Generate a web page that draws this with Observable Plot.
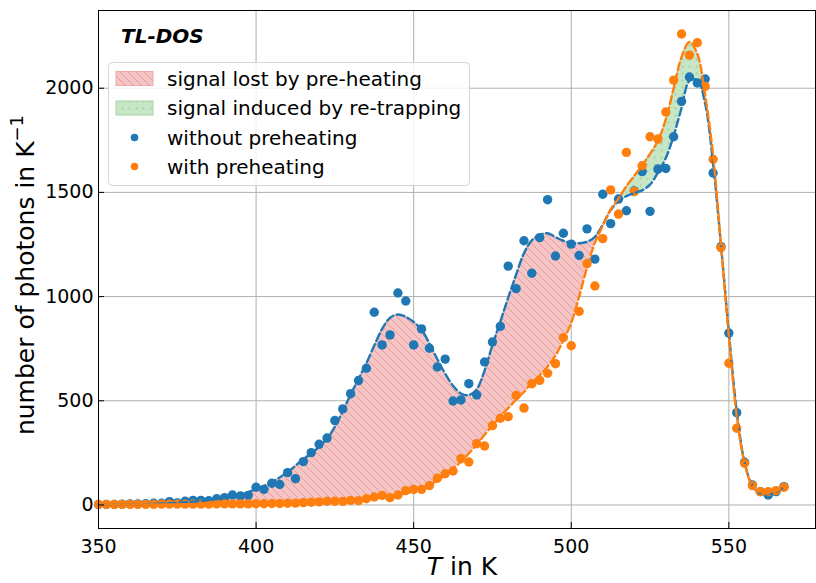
<!DOCTYPE html>
<html><head><meta charset="utf-8">
<script src="https://cdn.jsdelivr.net/npm/d3@7"></script>
<script src="https://cdn.jsdelivr.net/npm/@observablehq/plot@0.6"></script>
<style>
body{margin:0;background:#fff;font-family:"DejaVu Sans",sans-serif}
#chart{position:relative;width:816px;height:583px}
</style>
</head><body><div id="chart"></div>
<script>
// Temperatures (K)
const temperature = [
350,352.5,355,357.5,360,362.5,365,367.5,370,372.5,375,377.5,380,382.5,385,387.5,390,392.5,395,397.5,
400,402.5,405,407.5,410,412.5,415,417.5,420,422.5,425,427.5,430,432.5,435,437.5,440,442.5,445,447.5,
450,452.5,455,457.5,460,462.5,465,467.5,470,472.5,475,477.5,480,482.5,485,487.5,490,492.5,495,497.5,
500,502.5,505,507.5,510,512.5,515,517.5,520,522.5,525,527.5,530,532.5,535,537.5,540,542.5,545,547.5,
550,552.5,555,557.5,560,562.5,565,567.5];

// measured: without preheating
const withoutPreheating = [
2,3,3,4,5,5,6,8,8,16,10,18,22,22,20,30,35,48,43,46,
85,75,104,98,155,126,208,251,291,321,405,461,534,597,656,925,768,816,1017,979,
768,845,752,662,700,499,504,582,528,686,782,857,1146,1038,1268,1112,1283,1465,1195,1304,
1252,1198,1325,1180,1491,1350,1468,1412,1507,1600,1409,1612,1615,1767,1937,2054,2025,2044,1593,1240,
825,443,205,96,64,48,64,88];

// measured: with preheating
const withPreheating = [
3,3,3,3,3,3,3,3,4,4,4,4,4,4,4,5,5,5,5,5,
6,6,7,7,8,9,11,13,15,18,18,17,22,21,30,38,46,35,48,69,
75,75,93,128,150,163,222,206,294,283,381,416,424,526,465,582,598,632,678,803,
764,929,1158,1051,1278,1512,1396,1692,1504,1628,1767,1756,1886,2039,2260,2159,2218,2009,1659,1235,
680,368,200,93,64,64,69,85];

// smoothed curve: without preheating
const fitWithout = [
1,1,2,2,3,3,4,5,7,8,10,13,16,19,23,28,34,41,50,62,
76,92,110,132,158,188,222,245,280,318,375,450,530,605,680,765,845,898,914,903,
878,840,775,700,630,572,535,527,555,645,768,880,995,1105,1208,1270,1296,1304,1285,1268,
1258,1256,1263,1287,1345,1415,1458,1482,1497,1510,1537,1595,1665,1772,1905,2035,2040,1925,1640,1250,
830,450,205,92,55,52,62,85];

// smoothed curve: with preheating
const fitWith = [
2,2,2,2,2,3,3,3,3,3,3,4,4,4,4,5,5,5,6,6,
7,7,8,9,10,11,12,14,15,17,19,21,23,26,29,33,37,42,48,56,
66,79,96,118,145,175,208,248,290,337,382,425,465,505,542,585,622,665,718,790,
875,1000,1140,1258,1340,1418,1470,1530,1580,1630,1685,1748,1850,2000,2150,2222,2165,1965,1680,1250,
810,430,200,90,58,56,65,85];

const xTicks = [350,400,450,500,550];
const yTicks = [0,500,1000,1500,2000];
const legendLabels = ["signal lost by pre-heating","signal induced by re-trapping","without preheating","with preheating"];

const rows = temperature.map((t,i)=>({t, b: withoutPreheating[i], o: withPreheating[i], fb: fitWithout[i], fo: fitWith[i]}));

const blue = "#1f77b4", orange = "#ff7f0e";
const chart = Plot.plot({
  width: 816, height: 583,
  marginLeft: 98, marginRight: 1, marginTop: 10, marginBottom: 55,
  style: {fontFamily: "DejaVu Sans, sans-serif", fontSize: "19px", background: "white", color: "black", overflow: "visible"},
  x: {domain: [350, 577.5], label: null},
  y: {domain: [-113, 2373], label: null},
  marks: [
    Plot.gridX(xTicks, {stroke: "#b0b0b0", strokeOpacity: 1, strokeWidth: 1}),
    Plot.gridY(yTicks, {stroke: "#b0b0b0", strokeOpacity: 1, strokeWidth: 1}),
    Plot.areaY(rows, {x: "t", y1: "fo", y2: d => Math.max(d.fb, d.fo), fill: "url(#hatchRed)", curve: "catmull-rom"}),
    Plot.areaY(rows, {x: "t", y1: "fb", y2: d => Math.max(d.fb, d.fo), fill: "url(#dotGreen)", curve: "catmull-rom"}),
    Plot.dot(rows, {x: "t", y: "b", r: 4.7, fill: blue, stroke: "none"}),
    Plot.dot(rows, {x: "t", y: "o", r: 4.7, fill: orange, stroke: "none"}),
    Plot.line(rows, {x: "t", y: "fb", stroke: blue, strokeWidth: 2.4, strokeDasharray: "8,3.5", curve: "catmull-rom"}),
    Plot.line(rows, {x: "t", y: "fo", stroke: orange, strokeWidth: 2.4, strokeDasharray: "8,3.5", curve: "catmull-rom"}),
    Plot.axisX(xTicks, {tickSize: 0, tickPadding: 11, fontSize: 19, tickFormat: d3.format("d")}),
    Plot.axisY(yTicks, {tickSize: 0, tickPadding: 5, fontSize: 19, tickFormat: d3.format("d")}),
    Plot.axisX(xTicks, {tickSize: -6, tickFormat: () => ""}),
    Plot.axisY(yTicks, {tickSize: -6, tickFormat: () => ""}),
    Plot.frame({stroke: "black", strokeWidth: 1})
  ]
});
document.getElementById("chart").appendChild(chart);

const svg = d3.select(chart);
const defs = svg.insert("defs", ":first-child");
const hp = defs.append("pattern").attr("id","hatchRed").attr("patternUnits","userSpaceOnUse").attr("width",8).attr("height",8);
hp.append("rect").attr("width",8).attr("height",8).attr("fill","#f5c5c5");
hp.append("path").attr("d","M-1,-1 L9,9 M-1,7 L1,9 M7,-1 L9,1").attr("stroke","#e99a9a").attr("stroke-width",1);
const gp = defs.append("pattern").attr("id","dotGreen").attr("patternUnits","userSpaceOnUse").attr("width",7).attr("height",7);
gp.append("rect").attr("width",7).attr("height",7).attr("fill","#c6e6c6");
gp.append("circle").attr("cx",3.5).attr("cy",3.5).attr("r",0.9).attr("fill","#9ccf9c");

const ff = "DejaVu Sans, sans-serif";
// axis labels
const xl = svg.append("text").attr("x",462).attr("y",575).attr("text-anchor","middle").attr("font-family",ff).attr("font-size",25).attr("fill","black");
xl.append("tspan").attr("font-style","italic").text("T");
xl.append("tspan").text(" in K");
const yl = svg.append("text").attr("transform","translate(34,275) rotate(-90)").attr("text-anchor","middle").attr("font-family",ff).attr("font-size",25).attr("fill","black");
yl.append("tspan").text("number of photons in K");
yl.append("tspan").attr("font-size",18).attr("dy",-11).text("−1");

// TL-DOS tag
svg.append("text").attr("x",121).attr("y",43).attr("text-anchor","start").attr("font-family",ff).attr("font-size",20).attr("font-weight","bold").attr("font-style","italic").attr("fill","black").text("TL-DOS");

// legend
const lg = svg.append("g").attr("text-anchor","start");
lg.append("rect").attr("x",108.5).attr("y",62.5).attr("width",361).attr("height",123).attr("rx",4).attr("fill","white").attr("fill-opacity",0.8).attr("stroke","#d5d5d5");
const rowsY = [78.5,108,137.5,166.5];
lg.append("rect").attr("x",116).attr("y",rowsY[0]-7).attr("width",37).attr("height",14).attr("fill","url(#hatchRed)").attr("stroke","#f0a8a8");
lg.append("rect").attr("x",116).attr("y",rowsY[1]-7).attr("width",37).attr("height",14).attr("fill","url(#dotGreen)").attr("stroke","#a8d8a8");
lg.append("circle").attr("cx",134.5).attr("cy",rowsY[2]).attr("r",3.8).attr("fill",blue);
lg.append("circle").attr("cx",134.5).attr("cy",rowsY[3]).attr("r",3.8).attr("fill",orange);
legendLabels.forEach((s,i)=>{
  lg.append("text").attr("x",167).attr("y",rowsY[i]).attr("dy","0.36em").attr("text-anchor","start").attr("font-family",ff).attr("font-size",20).attr("fill","black").text(s);
});
</script>
</body></html>
